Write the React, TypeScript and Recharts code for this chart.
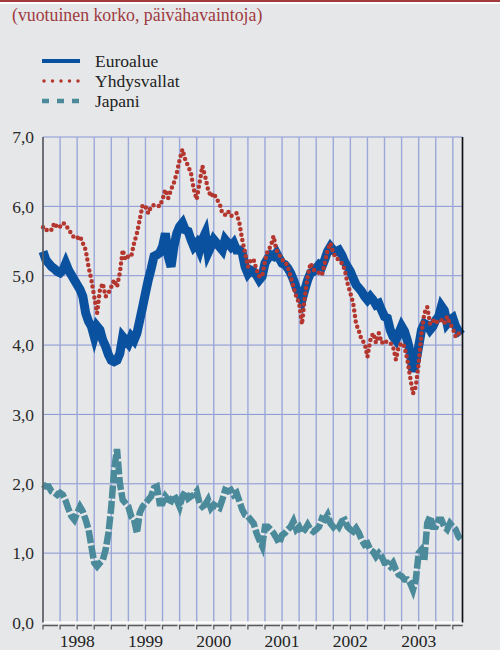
import React from "react";
import { CartesianGrid, Line, LineChart, XAxis, YAxis } from "recharts";

// puolen kuukauden välein luetut arvot, tammikuu 1998 = 0
const kuukaudet = Array.from({ length: 148 }, (_, i) => i / 2);

const euroalue = [
  5.35, 5.23, 5.18, 5.13, 5.1, 5.06, 5.04, 5.08, 5.18, 5.08, 5.01, 4.94, 4.87, 4.8, 4.7, 4.46, 4.34, 4.27, 4.12, 4.27, 4.22, 4.07, 3.98, 3.86,
  3.78, 3.76, 3.78, 3.88, 4.12, 4.07, 4.02, 4.12, 4.07, 4.17, 4.36, 4.55, 4.75, 4.94, 5.1, 5.28, 5.3, 5.33, 5.42, 5.61, 5.28, 5.13, 5.42, 5.61,
  5.71, 5.76, 5.66, 5.64, 5.52, 5.42, 5.47, 5.37, 5.52, 5.61, 5.33, 5.42, 5.52, 5.47, 5.42, 5.37, 5.52, 5.47, 5.42, 5.47, 5.37, 5.37, 5.33, 5.13,
  5.03, 5.08, 5.06, 5.01, 4.94, 4.99, 5.18, 5.25, 5.3, 5.28, 5.33, 5.25, 5.18, 5.16, 5.11, 5.04, 4.94, 4.82, 4.75, 4.65, 4.8, 4.94, 5.04, 5.06,
  5.11, 5.16, 5.13, 5.23, 5.35, 5.42, 5.37, 5.35, 5.37, 5.3, 5.2, 5.13, 5.06, 4.96, 4.87, 4.82, 4.77, 4.7, 4.65, 4.7, 4.65, 4.58, 4.6, 4.5,
  4.41, 4.39, 4.22, 4.12, 4.07, 4.17, 4.27, 4.2, 4.07, 3.9, 3.62, 3.75, 3.98, 4.22, 4.31, 4.29, 4.22, 4.27, 4.36, 4.41, 4.56, 4.5, 4.31, 4.36,
  4.39, 4.27, 4.2, 4.15,
];

const yhdysvallat = [
  5.7, 5.65, 5.68, 5.66, 5.76, 5.69, 5.71, 5.76, 5.74, 5.66, 5.61, 5.54, 5.54, 5.57, 5.47, 5.37, 5.13, 4.94, 4.7, 4.46, 4.8, 4.89, 4.7, 4.75,
  4.84, 4.94, 4.84, 5.04, 5.37, 5.23, 5.28, 5.28, 5.47, 5.61, 5.81, 6.02, 6.0, 5.9, 6.0, 6.02, 6.02, 6.0, 6.1, 6.24, 6.12, 6.24, 6.34, 6.48,
  6.67, 6.82, 6.67, 6.58, 6.48, 6.24, 6.1, 6.34, 6.58, 6.43, 6.24, 6.14, 6.19, 6.1, 6.05, 5.9, 5.88, 5.93, 5.86, 5.88, 5.9, 5.76, 5.52, 5.33,
  5.13, 5.23, 5.23, 5.09, 4.99, 4.99, 5.21, 5.37, 5.42, 5.57, 5.37, 5.3, 5.23, 5.21, 5.13, 4.99, 4.84, 4.7, 4.6, 4.3, 4.7, 4.99, 5.18, 5.09,
  5.06, 5.04, 5.01, 5.18, 5.37, 5.47, 5.33, 5.25, 5.23, 5.18, 5.09, 4.89, 4.75, 4.6, 4.31, 4.2, 4.07, 4.03, 3.83, 4.07, 4.17, 4.03, 4.17, 4.03,
  4.07, 4.03, 4.03, 3.98, 3.79, 3.98, 4.03, 3.98, 3.79, 3.54, 3.3, 3.4, 3.74, 4.17, 4.46, 4.55, 4.31, 4.36, 4.31, 4.36, 4.36, 4.31, 4.41, 4.31,
  4.24, 4.12, 4.17, 4.14,
];

const japani = [
  1.99, 1.96, 1.96, 1.89, 1.87, 1.84, 1.87, 1.84, 1.75, 1.63, 1.53, 1.48, 1.58, 1.67, 1.6, 1.48, 1.34, 1.1, 0.86, 0.81, 0.86, 0.9, 1.05, 1.29,
  1.67, 2.2, 2.5, 2.01, 1.77, 1.72, 1.67, 1.53, 1.48, 1.29, 1.58, 1.67, 1.72, 1.77, 1.82, 1.94, 1.96, 1.72, 1.72, 1.82, 1.77, 1.75, 1.84, 1.77,
  1.67, 1.82, 1.89, 1.79, 1.82, 1.84, 1.89, 1.72, 1.67, 1.7, 1.77, 1.65, 1.7, 1.67, 1.65, 1.77, 1.91, 1.89, 1.91, 1.84, 1.87, 1.75, 1.63, 1.55,
  1.53, 1.48, 1.43, 1.29, 1.19, 1.1, 1.38, 1.38, 1.34, 1.29, 1.22, 1.14, 1.26, 1.29, 1.34, 1.38, 1.46, 1.34, 1.38, 1.29, 1.34, 1.41, 1.34, 1.31,
  1.34, 1.38, 1.5, 1.48, 1.55, 1.43, 1.38, 1.43, 1.38, 1.46, 1.48, 1.38, 1.34, 1.31, 1.36, 1.29, 1.19, 1.12, 1.14, 1.05, 1.02, 0.95, 1.0, 0.95,
  0.86, 0.86, 0.81, 0.86, 0.76, 0.69, 0.67, 0.62, 0.62, 0.57, 0.47, 0.62, 1.0, 1.05, 0.9, 1.43, 1.53, 1.38, 1.38, 1.48, 1.48, 1.38, 1.34, 1.43,
  1.38, 1.34, 1.24, 1.19,
];

const vuodet = ["1998", "1999", "2000", "2001", "2002", "2003"];
const yTicks = [0, 1, 2, 3, 4, 5, 6, 7];
const xTicks = [0, 3, 6, 9, 12, 15, 18, 21, 24, 27, 30, 33, 36, 39, 42, 45, 48, 51, 54, 57, 60, 63, 66, 69, 72];

const data = kuukaudet.map((m, i) => ({
  m,
  euro: euroalue[i],
  usa: yhdysvallat[i],
  jpn: japani[i],
}));

const FONT = "Liberation Serif, Tinos, DejaVu Serif, serif";
const BG = "#e6e7e9";

const sarjat = [
  { key: "jpn", name: "Japani", color: "#4a8a9a", width: 6.5, dash: "13 2.5", cap: "butt" as const },
  { key: "euro", name: "Euroalue", color: "#0a519f", width: 9, dash: undefined, cap: "butt" as const },
  { key: "usa", name: "Yhdysvallat", color: "#b4372f", width: 4.5, dash: "0 5.5", cap: "round" as const },
];

const legendRows = [
  { name: "Euroalue", color: "#0a519f", width: 4, dash: undefined, cap: "butt" as const, x1: 0, y: 60.5 },
  { name: "Yhdysvallat", color: "#b4372f", width: 3.5, dash: "0 8.5", cap: "round" as const, x1: 2, y: 80.7 },
  { name: "Japani", color: "#4a8a9a", width: 4.5, dash: "7 8", cap: "butt" as const, x1: 0, y: 100.7 },
];

const fmt = (v: number) => v.toFixed(1).replace(".", ",");

const XTick = (props: any) => {
  const { x, y, payload } = props;
  const v = payload.value as number;
  const len = v >= 72 ? 10 : 15;
  const label = v % 12 === 6 ? vuodet[(v - 6) / 12] : null;
  return (
    <g>
      <path d={`M${x},${y + 7} V${y + 3} H${x + len}`} stroke="#5a5a5a" strokeWidth={1.3} fill="none" />
      {label && (
        <text x={x} y={y + 24} textAnchor="middle" fontSize={17.5} fontFamily={FONT} fill="#222">
          {label}
        </text>
      )}
    </g>
  );
};

const App = () => {
  return (
    <div style={{ position: "absolute", left: 0, top: 0, width: 500, height: 650, background: BG, overflow: "hidden" }}>
      <div style={{ position: "absolute", left: 0, top: 0, width: 500, height: 2, background: "#a23a3e" }} />
      <div style={{ position: "absolute", left: 0, top: 2, width: 500, height: 2, background: "#ffffff" }} />
      <div
        style={{
          position: "absolute",
          left: 12,
          top: 5,
          fontFamily: FONT,
          fontSize: 17.8,
          lineHeight: "20px",
          color: "#9e3a40",
          whiteSpace: "nowrap",
        }}
      >
        (vuotuinen korko, päivähavaintoja)
      </div>

      {legendRows.map((r) => (
        <div key={r.name} style={{ position: "absolute", left: 42, top: r.y - 10, height: 20, width: 200 }}>
          <svg width={40} height={20} style={{ position: "absolute", left: 0, top: 0 }}>
            <line
              x1={r.x1}
              x2={38}
              y1={10}
              y2={10}
              stroke={r.color}
              strokeWidth={r.width}
              strokeDasharray={r.dash}
              strokeLinecap={r.cap}
            />
          </svg>
          <span
            style={{
              position: "absolute",
              left: 53,
              top: 0,
              fontFamily: FONT,
              fontSize: 17.5,
              lineHeight: "20px",
              color: "#222",
              whiteSpace: "nowrap",
            }}
          >
            {r.name}
          </span>
        </div>
      ))}

      <div style={{ position: "absolute", left: 0, top: 0 }}>
        <LineChart width={500} height={650} data={data} margin={{ top: 137, right: 0, bottom: 0, left: 0 }}>
          <CartesianGrid vertical={false} stroke="#8796d3" strokeWidth={1} />
          <CartesianGrid horizontal={false} stroke="#9ba8da" strokeWidth={1.4} />
          <XAxis
            dataKey="m"
            type="number"
            domain={[0, 73.7]}
            ticks={xTicks}
            height={27.5}
            tickSize={0}
            tickMargin={0}
            interval={0}
            axisLine={{ stroke: "#ffffff", strokeWidth: 2 }}
            tick={<XTick />}
          />
          <YAxis
            domain={[0, 7]}
            ticks={yTicks}
            width={43}
            tickSize={0}
            tickMargin={9}
            interval={0}
            tickFormatter={fmt}
            axisLine={{ stroke: "#5e5e5e", strokeWidth: 1.6 }}
            tick={{ fill: "#2a2a2a", fontSize: 17.5, fontFamily: FONT }}
          />
          <YAxis
            yAxisId="r"
            orientation="right"
            domain={[0, 7]}
            ticks={yTicks}
            width={37.5}
            tickSize={0}
            tickMargin={9.5}
            interval={0}
            tickFormatter={fmt}
            axisLine={{ stroke: "#111", strokeWidth: 1.6 }}
            tick={{ fill: "#2a2a2a", fontSize: 17.5, fontFamily: FONT, textAnchor: "start" }}
          />
          {sarjat.map((s) => (
            <Line
              key={s.key}
              dataKey={s.key}
              name={s.name}
              type="linear"
              stroke={s.color}
              strokeWidth={s.width}
              strokeDasharray={s.dash}
              strokeLinecap={s.cap}
              strokeLinejoin="miter"
              dot={false}
              activeDot={false}
              isAnimationActive={false}
            />
          ))}
        </LineChart>
      </div>
    </div>
  );
};

export default App;
